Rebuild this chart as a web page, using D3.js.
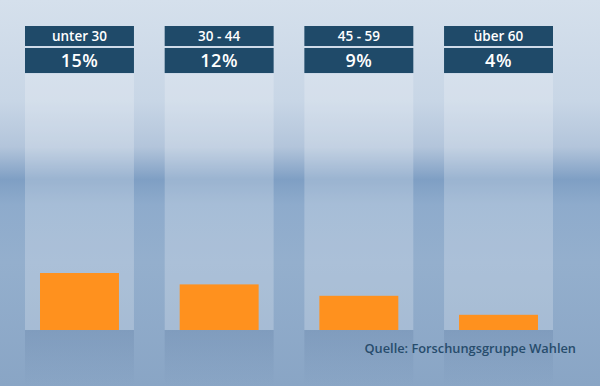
<!DOCTYPE html>
<html>
<head>
<meta charset="utf-8">
<script src="https://cdn.jsdelivr.net/npm/d3@7"></script>
<style>
  html, body { margin: 0; padding: 0; }
  svg { display: block; }
</style>
</head>
<body>
<div id="chart"></div>
<script>
// Chart data
const categories = ['unter 30', '30 - 44', '45 - 59', 'über 60'];
const values = [15, 12, 9, 4];
const valueLabels = ['15%', '12%', '9%', '4%'];
const source = 'Quelle: Forschungsgruppe Wahlen';

const width = 600;
const height = 386;
const baseY = 330;
const panelTop = 74;

const svg = d3.select('#chart').append('svg')
  .attr('width', width)
  .attr('height', height);

const defs = svg.append('defs');

// Background gradient
const bg = defs.append('linearGradient')
  .attr('id', 'bg').attr('x1', 0).attr('y1', 0).attr('x2', 0).attr('y2', 1);
[
  [0, '#d5e0ec'], [0.26, '#c8d6e6'], [0.38, '#b3c5db'],
  [0.465, '#7f9fc4'], [0.53, '#8eabcc'], [0.68, '#94afcd'], [1, '#89a5c5']
].forEach(([o, c]) => bg.append('stop').attr('offset', o).attr('stop-color', c));

// Reflection below baseline
const refl = defs.append('linearGradient')
  .attr('id', 'refl').attr('x1', 0).attr('y1', 0).attr('x2', 0).attr('y2', 1);
refl.append('stop').attr('offset', 0).attr('stop-color', '#6f8cb0').attr('stop-opacity', 0.45);
refl.append('stop').attr('offset', 1).attr('stop-color', '#6f8cb0').attr('stop-opacity', 0);

svg.append('rect')
  .attr('width', width).attr('height', height)
  .attr('fill', 'url(#bg)');

// Scales
const x = d3.scaleBand()
  .domain(categories)
  .range([25, 553])
  .paddingInner(0.22)
  .paddingOuter(0);

const y = d3.scaleLinear()
  .domain([0, 15])
  .range([baseY, 273]);

const cols = svg.selectAll('.col')
  .data(categories)
  .enter()
  .append('g')
  .attr('class', 'col')
  .attr('transform', d => `translate(${x(d)},0)`);

// Light panel
cols.append('rect')
  .attr('y', panelTop)
  .attr('width', x.bandwidth())
  .attr('height', baseY - panelTop)
  .attr('fill', '#ffffff')
  .attr('fill-opacity', 0.22);

// Reflection
cols.append('rect')
  .attr('y', baseY)
  .attr('width', x.bandwidth())
  .attr('height', height - baseY)
  .attr('fill', 'url(#refl)');

// Header boxes
cols.append('rect')
  .attr('y', 26)
  .attr('width', x.bandwidth())
  .attr('height', 20)
  .attr('fill', '#1f4a69');

cols.append('rect')
  .attr('y', 48)
  .attr('width', x.bandwidth())
  .attr('height', 25)
  .attr('fill', '#1f4a69');

cols.append('text')
  .attr('x', x.bandwidth() / 2)
  .attr('y', 41)
  .attr('text-anchor', 'middle')
  .attr('fill', '#ffffff')
  .style('font-family', '"Open Sans", sans-serif')
  .style('font-weight', 600)
  .style('font-size', '13.5px')
  .text(d => d);

cols.append('text')
  .attr('x', x.bandwidth() / 2)
  .attr('y', 67)
  .attr('text-anchor', 'middle')
  .attr('fill', '#ffffff')
  .style('font-family', '"Open Sans", sans-serif')
  .style('font-weight', 600)
  .style('font-size', '18px')
  .style('letter-spacing', '0.5px')
  .text((d, i) => valueLabels[i]);

// Bars
const barInset = 15;
cols.append('rect')
  .attr('class', 'bar')
  .attr('x', barInset)
  .attr('y', (d, i) => y(values[i]))
  .attr('width', x.bandwidth() - barInset * 2)
  .attr('height', (d, i) => baseY - y(values[i]))
  .attr('fill', '#ff911e');

// Source
svg.append('text')
  .attr('x', 576)
  .attr('y', 353)
  .attr('text-anchor', 'end')
  .attr('fill', '#274c6c')
  .style('font-family', '"Open Sans", sans-serif')
  .style('font-weight', 600)
  .style('font-size', '12.8px')
  .text(source);
</script>
</body>
</html>
